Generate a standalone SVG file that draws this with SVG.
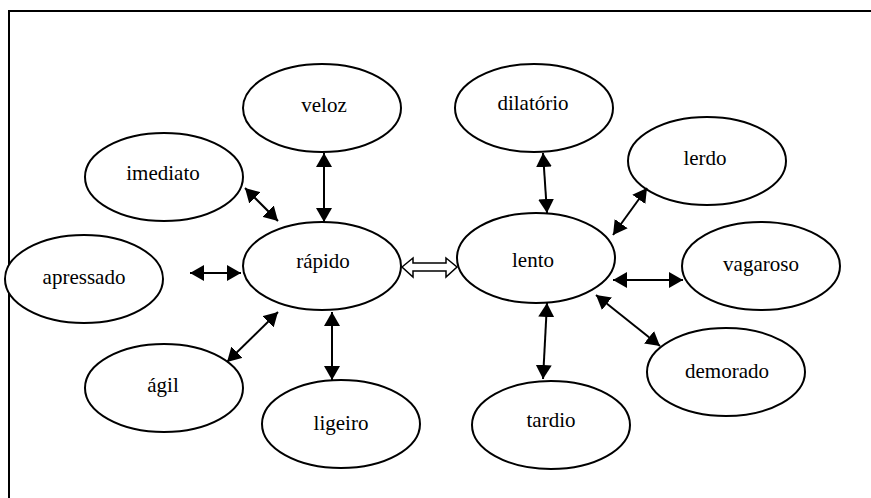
<svg xmlns="http://www.w3.org/2000/svg" width="871" height="498" viewBox="0 0 871 498">
  <style>
    .node ellipse { fill: #fff; stroke: #000; stroke-width: 2; }
    .node text { font-family: "Liberation Serif", "DejaVu Serif", serif; font-size: 21px; fill: #000; text-anchor: middle; }
    .conn line { stroke: #000; stroke-width: 2; marker-start: url(#head); marker-end: url(#head); }
    .frame { fill: none; stroke: #000; stroke-width: 2; }
  </style>
  <defs>
    <marker id="head" viewBox="0 0 14 16" refX="14" refY="8" markerWidth="14" markerHeight="16" markerUnits="userSpaceOnUse" orient="auto-start-reverse">
      <path d="M0,0 L14,8 L0,16 Z" fill="#000"/>
    </marker>
  </defs>
  <rect width="871" height="498" fill="#fff"/>
  <!-- open frame: top and left edges -->
  <polyline class="frame" points="9,498 9,11 871,11"/>

  <g id="veloz" class="node"><ellipse cx="322" cy="108" rx="79" ry="44"/><text x="324" y="112">veloz</text></g>
  <g id="imediato" class="node"><ellipse cx="164" cy="177" rx="79" ry="44"/><text x="163" y="180">imediato</text></g>
  <g id="apressado" class="node"><ellipse cx="84" cy="279" rx="79" ry="44"/><text x="84" y="284">apressado</text></g>
  <g id="rapido" class="node"><ellipse cx="322" cy="266" rx="79" ry="44"/><text x="323" y="268">rápido</text></g>
  <g id="agil" class="node"><ellipse cx="164" cy="388" rx="79" ry="44"/><text x="163" y="392">ágil</text></g>
  <g id="ligeiro" class="node"><ellipse cx="341" cy="424" rx="79" ry="44"/><text x="341" y="430">ligeiro</text></g>
  <g id="dilatorio" class="node"><ellipse cx="534" cy="108" rx="79" ry="44"/><text x="533" y="110">dilatório</text></g>
  <g id="lerdo" class="node"><ellipse cx="707" cy="161" rx="79" ry="44"/><text x="705" y="165">lerdo</text></g>
  <g id="lento" class="node"><ellipse cx="536" cy="258" rx="79" ry="45"/><text x="533" y="267">lento</text></g>
  <g id="vagaroso" class="node"><ellipse cx="761" cy="266" rx="79" ry="44"/><text x="761" y="271">vagaroso</text></g>
  <g id="demorado" class="node"><ellipse cx="726" cy="372" rx="79" ry="44"/><text x="727" y="378">demorado</text></g>
  <g id="tardio" class="node"><ellipse cx="551" cy="425" rx="79" ry="44"/><text x="551" y="427">tardio</text></g>

  <g id="connectors" class="conn">
    <line x1="324" y1="153" x2="324" y2="222"/>
    <line x1="245" y1="188" x2="278" y2="221"/>
    <line x1="190" y1="273" x2="241" y2="273"/>
    <line x1="227" y1="362" x2="278" y2="312"/>
    <line x1="332" y1="312" x2="332" y2="380"/>
    <line x1="543" y1="153" x2="547" y2="213"/>
    <line x1="647" y1="188" x2="613" y2="235"/>
    <line x1="613" y1="280" x2="683" y2="280"/>
    <line x1="596" y1="295" x2="660" y2="346"/>
    <line x1="547" y1="303" x2="543" y2="379"/>
    <!-- hollow double arrow between rápido and lento -->
    <path d="M402,267 L413,258 L413,263 L446,263 L446,258 L457,267 L446,277 L446,271 L413,271 L413,277 Z" fill="#fff" stroke="#000" stroke-width="1.5"/>
  </g>
</svg>
